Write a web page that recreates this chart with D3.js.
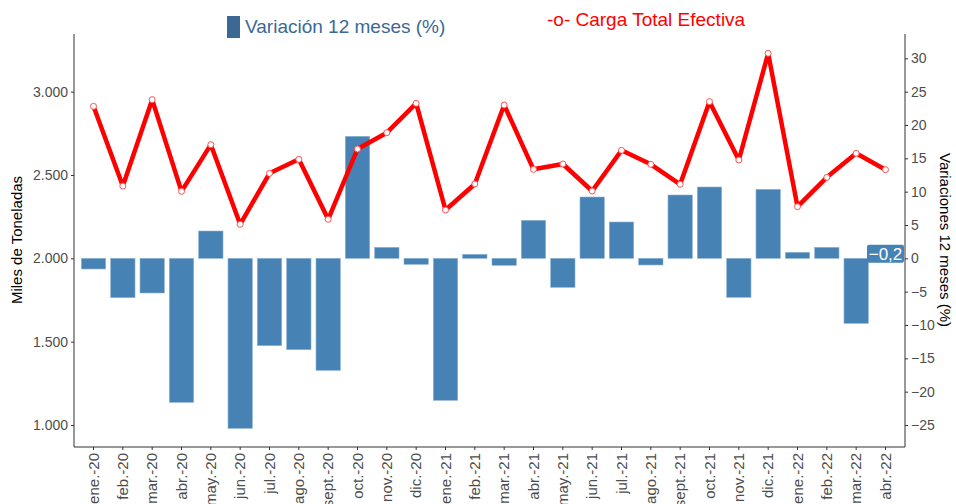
<!DOCTYPE html>
<html>
<head>
<meta charset="UTF-8" />
<title>Carga total efectiva</title>
<script src="https://d3js.org/d3.v7.min.js"></script>
<style>
  body { margin: 0; background: #fff; }
  text { font-family: "Liberation Sans", Arial, sans-serif; }
</style>
</head>
<body>
<svg id="chart" width="956" height="504"></svg>
<script>
// data
const months = ["ene.-20","feb.-20","mar.-20","abr.-20","may.-20","jun.-20","jul.-20","ago.-20","sept.-20","oct.-20","nov.-20","dic.-20",
  "ene.-21","feb.-21","mar.-21","abr.-21","may.-21","jun.-21","jul.-21","ago.-21","sept.-21","oct.-21","nov.-21","dic.-21",
  "ene.-22","feb.-22","mar.-22","abr.-22"]
// miles de toneladas
const carga = [2912,2434,2952,2402,2682,2204,2510,2594,2234,2656,2754,2930,
  2290,2446,2920,2534,2566,2404,2648,2564,2444,2940,2590,3230,
  2310,2486,2630,2532]
// variacion 12 meses (%)
const variacion = [-1.6,-5.9,-5.2,-21.6,4.1,-25.5,-13.1,-13.7,-16.8,18.3,1.65,-0.9,
  -21.3,0.6,-1.05,5.7,-4.35,9.2,5.45,-1.0,9.5,10.7,-5.85,10.35,
  0.9,1.65,-9.75,-0.2]
const leftTicks = [1000,1500,2000,2500,3000]
const rightTicks = [-25,-20,-15,-10,-5,0,5,10,15,20,25,30]

const svg = d3.select("#chart")
const mLeft = 74, mRight = 905, mTop = 34, mBottom = 447
const barColor = "#4682b4"

var x = d3.scaleBand().domain(months).range([mLeft, mRight]).paddingInner(0.17).paddingOuter(0.25)
var yL = d3.scaleLinear().domain([868, 3346]).range([mBottom, mTop])
var yR = d3.scaleLinear().domain([-28.3, 33.65]).range([mBottom, mTop])

const fmt = d3.formatLocale({decimal: ",", thousands: ".", grouping: [3], currency: ["", ""]})

// bars
svg.append("g").selectAll("rect").data(variacion).join("rect")
  .attr("x", (d,i) => x(months[i]))
  .attr("width", x.bandwidth())
  .attr("y", d => yR(Math.max(0, d)))
  .attr("height", d => Math.abs(yR(d) - yR(0)))
  .style("fill", barColor)
  .style("stroke", "#8fb3d3")
  .style("stroke-width", 0.6)

// line
var line = d3.line().x((d,i) => x(months[i]) + x.bandwidth()/2).y(d => yL(d))
svg.append("path").attr("d", line(carga))
  .style("fill", "none").style("stroke", "#ff0000").style("stroke-width", 4.5)
  .style("stroke-linejoin", "round")
svg.append("g").selectAll("circle").data(carga).join("circle")
  .attr("cx", (d,i) => x(months[i]) + x.bandwidth()/2)
  .attr("cy", d => yL(d))
  .attr("r", 3)
  .style("fill", "#fff").style("stroke", "#ff5050").style("stroke-width", 1)

// axes
const axisColor = "#333"
const tickText = "#4d4d4d"
var gL = svg.append("g").attr("transform", `translate(${mLeft},0)`)
  .call(d3.axisLeft(yL).tickValues(leftTicks).tickSize(3).tickPadding(3).tickFormat(d => fmt.format(",")(d)))
var gR = svg.append("g").attr("transform", `translate(${mRight},0)`)
  .call(d3.axisRight(yR).tickValues(rightTicks).tickSize(3).tickPadding(3))
var gB = svg.append("g").attr("transform", `translate(0,${mBottom})`)
  .call(d3.axisBottom(x).tickSize(3).tickPadding(3))
;[gL, gR, gB].forEach(g => {
  g.select(".domain").attr("d", null)
  g.selectAll(".tick line").style("stroke", axisColor)
  g.selectAll(".tick text").style("fill", tickText).style("font-size", "14px")
    .style("font-family", "'Liberation Sans', Arial, sans-serif")
})
gB.selectAll(".tick text")
  .style("font-size", "15px")
  .attr("transform", "rotate(-90)")
  .attr("text-anchor", "end")
  .attr("x", -6).attr("y", 0).attr("dy", "0.35em")
// axis lines
svg.append("path").attr("d", `M${mLeft},${mTop}V${mBottom}H${mRight}V${mTop}`)
  .style("fill", "none").style("stroke", axisColor).style("stroke-width", 1)

// axis titles
svg.append("text").attr("transform", `translate(22,240) rotate(-90)`)
  .attr("text-anchor", "middle").style("font-size", "15px").style("fill", "#000")
  .text("Miles de Toneladas")
svg.append("text").attr("transform", `translate(940,240) rotate(90)`)
  .attr("text-anchor", "middle").style("font-size", "15px").style("fill", "#000")
  .text("Variaciones 12 meses (%)")

// last value label
const lastI = months.length - 1
const lx = x(months[lastI]) + x.bandwidth()/2
svg.append("rect").attr("x", lx - 18.5).attr("y", yR(0) - 13.5).attr("width", 37).attr("height", 18)
  .attr("rx", 2).style("fill", barColor)
svg.append("text").attr("x", lx).attr("y", yR(0) - 4.5).attr("dy", "0.35em")
  .attr("text-anchor", "middle").style("font-size", "17px").style("fill", "#fff")
  .text(fmt.format(",.1f")(variacion[lastI]))

// legend
svg.append("rect").attr("x", 227).attr("y", 16).attr("width", 13).attr("height", 22).style("fill", "#3b6994")
svg.append("text").attr("x", 245).attr("y", 33).style("font-size", "19px").style("fill", "#3b6994")
  .text("Variación 12 meses (%)")
svg.append("text").attr("x", 547).attr("y", 26).style("font-size", "19px").style("fill", "#ff0000")
  .text("-o- Carga Total Efectiva")
</script>
</body>
</html>
